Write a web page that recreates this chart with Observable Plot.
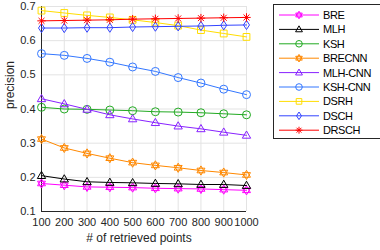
<!DOCTYPE html>
<html>
<head>
<meta charset="utf-8">
<script src="https://cdn.jsdelivr.net/npm/d3@7"></script>
<script src="https://cdn.jsdelivr.net/npm/@observablehq/plot@0.6"></script>
<style>
  html, body { margin: 0; padding: 0; background: #fff; }
  #chart { position: relative; width: 380px; height: 250px; overflow: hidden; }
</style>
</head>
<body>
<div id="chart"></div>
<script>
// ---- data ----
const retrieved = [100, 200, 300, 400, 500, 600, 700, 800, 900, 1000];
const yTicks = [0.1, 0.2, 0.3, 0.4, 0.5, 0.6, 0.7];
const seriesNames = ["BRE", "MLH", "KSH", "BRECNN", "MLH-CNN", "KSH-CNN", "DSRH", "DSCH", "DRSCH"];
const BRE     = [0.182, 0.177, 0.172, 0.171, 0.170, 0.168, 0.167, 0.166, 0.164, 0.162];
const MLH     = [0.205, 0.195, 0.187, 0.185, 0.184, 0.182, 0.181, 0.179, 0.179, 0.176];
const KSH     = [0.405, 0.400, 0.399, 0.397, 0.395, 0.392, 0.391, 0.389, 0.386, 0.383];
const BRECNN  = [0.312, 0.286, 0.270, 0.256, 0.243, 0.235, 0.228, 0.220, 0.214, 0.207];
const MLH_CNN = [0.430, 0.415, 0.399, 0.383, 0.371, 0.360, 0.350, 0.342, 0.332, 0.323];
const KSH_CNN = [0.562, 0.557, 0.548, 0.537, 0.523, 0.510, 0.492, 0.476, 0.458, 0.442];
const DSRH    = [0.688, 0.681, 0.674, 0.668, 0.661, 0.653, 0.644, 0.631, 0.621, 0.611];
const DSCH    = [0.637, 0.637, 0.638, 0.638, 0.640, 0.641, 0.642, 0.643, 0.645, 0.646];
const DRSCH   = [0.658, 0.659, 0.660, 0.661, 0.663, 0.664, 0.665, 0.666, 0.667, 0.668];
const seriesValues = [BRE, MLH, KSH, BRECNN, MLH_CNN, KSH_CNN, DSRH, DSCH, DRSCH];
const xLabel = "# of retrieved points";
const yLabel = "precision";

// ---- styles ----
const colors = ["#ff00ff", "#000000", "#22aa22", "#ff8800", "#8822ff", "#3377ff", "#ffdd00", "#3344ff", "#ff0000"];

const hexagram = {
  draw(ctx, size) {
    const R = Math.sqrt(size / Math.PI) * 1.15;
    for (const off of [-90, 90]) {
      for (let i = 0; i < 3; i++) {
        const a = (off + i * 120) * Math.PI / 180;
        const px = R * Math.cos(a), py = R * Math.sin(a);
        if (i === 0) ctx.moveTo(px, py); else ctx.lineTo(px, py);
      }
      ctx.closePath();
    }
  }
};
const asterisk8 = {
  draw(ctx, size) {
    const R = Math.sqrt(size / Math.PI) * 1.05;
    for (let i = 0; i < 4; i++) {
      const a = i * Math.PI / 4;
      ctx.moveTo(-R * Math.cos(a), -R * Math.sin(a));
      ctx.lineTo(R * Math.cos(a), R * Math.sin(a));
    }
  }
};
const triUp = {
  draw(ctx, size) {
    const R = Math.sqrt(size / Math.PI) * 1.2;
    for (let i = 0; i < 3; i++) {
      const a = (-90 + i * 120) * Math.PI / 180;
      const px = R * Math.cos(a), py = R * Math.sin(a) + R * 0.1;
      if (i === 0) ctx.moveTo(px, py); else ctx.lineTo(px, py);
    }
    ctx.closePath();
  }
};
const circ = {
  draw(ctx, size) {
    const R = Math.sqrt(size / Math.PI);
    ctx.moveTo(R, 0); ctx.arc(0, 0, R, 0, 2 * Math.PI);
  }
};
const sq = {
  draw(ctx, size) {
    const h = Math.sqrt(size / Math.PI) * 0.85;
    ctx.moveTo(-h, -h); ctx.lineTo(h, -h); ctx.lineTo(h, h); ctx.lineTo(-h, h); ctx.closePath();
  }
};
const diam = {
  draw(ctx, size) {
    const R = Math.sqrt(size / Math.PI);
    ctx.moveTo(0, -R * 1.15); ctx.lineTo(R * 0.75, 0); ctx.lineTo(0, R * 1.15); ctx.lineTo(-R * 0.75, 0); ctx.closePath();
  }
};
const symbols = [hexagram, triUp, circ, hexagram, triUp, circ, sq, diam, asterisk8];

const data = seriesNames.flatMap((name, i) =>
  retrieved.map((x, j) => ({series: name, x, y: seriesValues[i][j]})));

const font = "'Liberation Sans', Arial, Helvetica, sans-serif";

const chart = Plot.plot({
  width: 380,
  height: 250,
  marginLeft: 41,
  marginRight: 134,
  marginTop: 6,
  marginBottom: 39,
  style: {fontFamily: font, fontSize: "11px", background: "white", color: "#262626"},
  x: {domain: [100, 1000]},
  y: {domain: [0.1, 0.7]},
  color: {domain: seriesNames, range: colors},
  symbol: {domain: seriesNames, range: symbols},
  marks: [
    Plot.gridX(retrieved, {stroke: "#e3e3e3", strokeOpacity: 1}),
    Plot.gridY(yTicks, {stroke: "#e3e3e3", strokeOpacity: 1}),
    Plot.axisX(retrieved, {tickSize: 0, tickPadding: 7, fontSize: 11, fill: "#262626",
      tickFormat: d3.format("d"), label: null}),
    Plot.axisY(yTicks, {tickSize: 0, tickPadding: 6, tickFormat: d3.format(".1f"), fontSize: 11, fill: "#262626",
      label: null}),
    Plot.text([xLabel], {frameAnchor: "bottom", dy: 30, fontSize: 12, fill: "#262626", dx: -5}),
    Plot.text([yLabel], {frameAnchor: "left", rotate: -90, dx: -31, fontSize: 12, fill: "#262626"}),
    Plot.ruleX([100], {stroke: "#262626"}),
    Plot.ruleY([0.1], {stroke: "#262626"}),
    ...seriesNames.map(name => [
      Plot.line(data.filter(d => d.series === name), {x: "x", y: "y", stroke: "series", strokeWidth: 1}),
      Plot.dot(data.filter(d => d.series === name), {x: "x", y: "y", stroke: "series", symbol: "series", r: 4, fill: "none", strokeWidth: 1})
    ]).flat()
  ]
});

document.getElementById("chart").appendChild(chart);

// ---- legend (drawn into the same SVG) ----
const svg = d3.select(chart);
const lg = svg.append("g").attr("font-family", font).attr("font-size", 11).attr("text-anchor", "start");
const boxX = 273, boxY = 4, rowH = 14.4, firstRow = 15;
lg.append("rect").attr("x", boxX + 0.5).attr("y", boxY + 0.5)
  .attr("width", 120).attr("height", 134).attr("fill", "white").attr("stroke", "#262626").attr("stroke-width", 1);
seriesNames.forEach((name, i) => {
  const y = firstRow + i * rowH;
  const row = lg.append("g");
  row.append("line").attr("x1", 279).attr("x2", 319).attr("y1", y).attr("y2", y)
    .attr("stroke", colors[i]).attr("stroke-width", 1);
  row.append("path").attr("d", d3.symbol(symbols[i], Math.PI * 3.3 * 3.3)())
    .attr("transform", `translate(299,${y})`).attr("fill", "none").attr("stroke", colors[i]).attr("stroke-width", 1);
  row.append("text").attr("x", 323).attr("y", y + 4).attr("fill", "#000").attr("letter-spacing", -0.4)
    .attr("text-anchor", "start").text(name);
});
</script>
</body>
</html>
